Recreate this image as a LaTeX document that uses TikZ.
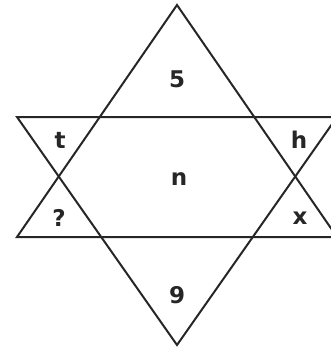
\documentclass[tikz,border=0pt]{standalone}
\usepackage{fontspec}
\setmainfont{DejaVu Sans}
\tikzset{
  lato/.style={line width=2pt, draw=black!85, line join=miter},
  cifra/.style={font=\fontsize{23}{26}\selectfont\bfseries, text=black!85}
}
\begin{document}
\begin{tikzpicture}[x=1pt,y=-1pt]
        % --- cornice (la figura e' tagliata a destra) ---
        \useasboundingbox (0,0) rectangle (331,350);
        \clip (0,0) rectangle (331,350);
        % --- vertici ---
        \coordinate (Asu)  at (177,5);    % vertice triangolo in su
        \coordinate (Bsx)  at (17,237);
        \coordinate (Bdx)  at (337,237);
        \coordinate (Agiu) at (177,345);  % vertice triangolo in giu
        \coordinate (Csx)  at (17,117);
        \coordinate (Cdx)  at (337,117);
        % --- i due triangoli ---
        \draw[lato] (Asu) -- (Bsx) -- (Bdx) -- cycle;
        \draw[lato] (Agiu) -- (Csx) -- (Cdx) -- cycle;
        % --- etichette delle regioni ---
        \node[cifra] (cinque) at (177,79)  {5};
        \node[cifra] (ti)     at (60,140)  {t};
        \node[cifra] (acca)   at (299,140) {h};
        \node[cifra] (enne)   at (179,179) {n};
        \node[cifra] (ignota) at (59,218)  {?};
        \node[cifra] (ics)    at (300,218) {x};
        \node[cifra] (nove)   at (177,295) {9};
    \end{tikzpicture}
\end{document}
